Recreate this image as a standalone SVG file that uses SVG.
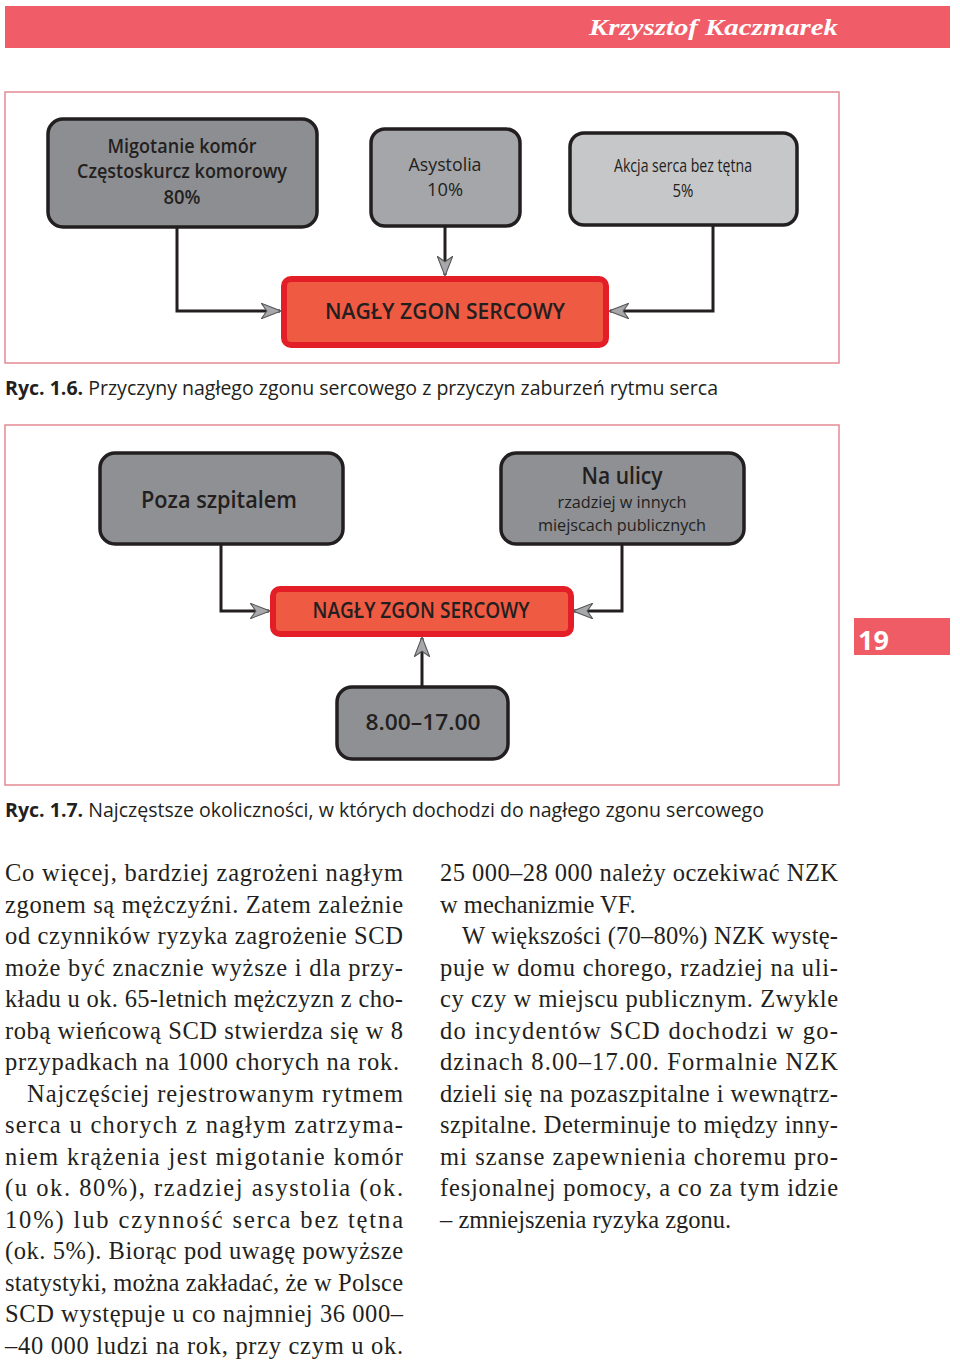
<svg xmlns="http://www.w3.org/2000/svg" width="960" height="1363" viewBox="0 0 960 1363">
<defs>
<style>
.frame{fill:none;stroke:#e48a92;stroke-width:1.5}
.node{stroke:#231f20;stroke-width:3.5}
.red{fill:#ef5a42;stroke:#e41e26;stroke-width:6}
.d{font-family:"Open Sans","Noto Sans",sans-serif;fill:#231f20;text-anchor:middle}
.sb{font-weight:600}
.conn{fill:none;stroke:#231f20;stroke-width:3}
.cap{font-family:"Open Sans","Noto Sans",sans-serif;font-size:20px;fill:#231f20}
.body{font-family:"Liberation Serif","Times New Roman",serif;font-size:24.5px;fill:#231f20}
</style>
<marker id="arr" markerUnits="userSpaceOnUse" markerWidth="22" markerHeight="16" refX="17" refY="7" orient="auto" viewBox="0 0 20 14">
<path d="M0,0 L18,7 L0,14 L5,7 Z" fill="#a7a8ab" stroke="#555" stroke-width="1"/>
</marker>
</defs>
<rect x="0" y="0" width="960" height="1363" fill="#ffffff"/>

<!-- header -->
<rect x="5" y="6" width="945" height="42" fill="#f05d69"/>
<text x="838" y="35" text-anchor="end" font-family="Liberation Serif,serif" font-style="italic" font-weight="bold" font-size="24" fill="#ffffff" textLength="249" lengthAdjust="spacingAndGlyphs">Krzysztof Kaczmarek</text>

<!-- figure 1.6 -->
<rect class="frame" x="5" y="92" width="834" height="271"/>
<g id="connectors1">
<path class="conn" d="M177,227 V311 H280" marker-end="url(#arr)"/>
<path class="conn" d="M445,226 V275" marker-end="url(#arr)"/>
<path class="conn" d="M713,225 V311 H610" marker-end="url(#arr)"/>
</g>
<g id="n_migotanie">
<rect class="node" x="48" y="119" width="269" height="108" rx="15" fill="#8d8e91"/>
<text class="d sb" x="182" y="153" font-size="19" textLength="149" lengthAdjust="spacingAndGlyphs">Migotanie komór</text>
<text class="d sb" x="182" y="178" font-size="19" textLength="210" lengthAdjust="spacingAndGlyphs">Częstoskurcz komorowy</text>
<text class="d sb" x="182" y="204" font-size="19" textLength="37" lengthAdjust="spacingAndGlyphs">80%</text>
</g>
<g id="n_asystolia">
<rect class="node" x="371" y="129" width="149" height="97" rx="14" fill="#a5a6a9" stroke-width="3"/>
<text class="d" x="445" y="171" font-size="19" textLength="73" lengthAdjust="spacingAndGlyphs">Asystolia</text>
<text class="d" x="445" y="196" font-size="19" textLength="36" lengthAdjust="spacingAndGlyphs">10%</text>
</g>
<g id="n_akcja">
<rect class="node" x="570" y="133" width="227" height="92" rx="14" fill="#c6c7c9" stroke-width="2.5"/>
<text class="d" x="683" y="172" font-size="18" textLength="138" lengthAdjust="spacingAndGlyphs">Akcja serca bez tętna</text>
<text class="d" x="683" y="197" font-size="18" textLength="21" lengthAdjust="spacingAndGlyphs">5%</text>
</g>
<g id="n_nzs1">
<rect class="red" x="284" y="279" width="322" height="66" rx="7"/>
<text class="d sb" x="445" y="319" font-size="22" textLength="240" lengthAdjust="spacingAndGlyphs">NAGŁY ZGON SERCOWY</text>
</g>
<text class="cap" x="5" y="395" textLength="713" lengthAdjust="spacingAndGlyphs"><tspan font-weight="bold">Ryc. 1.6.</tspan> Przyczyny nagłego zgonu sercowego z przyczyn zaburzeń rytmu serca</text>

<!-- figure 1.7 -->
<rect class="frame" x="5" y="425" width="834" height="360"/>
<g id="connectors2">
<path class="conn" d="M221,544 V611 H269" marker-end="url(#arr)"/>
<path class="conn" d="M622,544 V611 H574" marker-end="url(#arr)"/>
<path class="conn" d="M422,686 V638" marker-end="url(#arr)"/>
</g>
<g id="n_poza">
<rect class="node" x="100" y="453" width="243" height="91" rx="15" fill="#8e9093"/>
<text class="d sb" x="219" y="508" font-size="24" textLength="156" lengthAdjust="spacingAndGlyphs">Poza szpitalem</text>
</g>
<g id="n_ulicy">
<rect class="node" x="501" y="453" width="243" height="91" rx="15" fill="#8e9093"/>
<text class="d sb" x="622" y="484" font-size="24" textLength="81" lengthAdjust="spacingAndGlyphs">Na ulicy</text>
<text class="d" x="622" y="508" font-size="17" textLength="129" lengthAdjust="spacingAndGlyphs">rzadziej w innych</text>
<text class="d" x="622" y="531" font-size="17" textLength="168" lengthAdjust="spacingAndGlyphs">miejscach publicznych</text>
</g>
<g id="n_nzs2">
<rect class="red" x="273" y="589" width="298" height="45" rx="7"/>
<text class="d sb" x="421" y="618" font-size="21" textLength="217" lengthAdjust="spacingAndGlyphs">NAGŁY ZGON SERCOWY</text>
</g>
<g id="n_godz">
<rect class="node" x="337" y="687" width="171" height="72" rx="15" fill="#8e9093" stroke-width="3"/>
<text class="d sb" x="423" y="730" font-size="22" textLength="115" lengthAdjust="spacingAndGlyphs">8.00–17.00</text>
</g>
<text class="cap" x="5" y="817" textLength="759" lengthAdjust="spacingAndGlyphs"><tspan font-weight="bold">Ryc. 1.7.</tspan> Najczęstsze okoliczności, w których dochodzi do nagłego zgonu sercowego</text>

<!-- page number tab -->
<rect x="854" y="618" width="96" height="37" fill="#ef5c66"/>
<text x="858" y="650" font-family="Open Sans,sans-serif" font-weight="bold" font-size="27" fill="#ffffff">19</text>

<!-- body text left -->
<g class="body">
<text x="5" y="881" textLength="398" lengthAdjust="spacing">Co więcej, bardziej zagrożeni nagłym</text>
<text x="5" y="913" textLength="398" lengthAdjust="spacing">zgonem są mężczyźni. Zatem zależnie</text>
<text x="5" y="944" textLength="398" lengthAdjust="spacing">od czynników ryzyka zagrożenie SCD</text>
<text x="5" y="976" textLength="398" lengthAdjust="spacing">może być znacznie wyższe i dla przy-</text>
<text x="5" y="1007" textLength="398" lengthAdjust="spacing">kładu u ok. 65-letnich mężczyzn z cho-</text>
<text x="5" y="1039" textLength="398" lengthAdjust="spacing">robą wieńcową SCD stwierdza się w 8</text>
<text x="5" y="1070" textLength="394" lengthAdjust="spacing">przypadkach na 1000 chorych na rok.</text>
<text x="27" y="1102" textLength="376" lengthAdjust="spacing">Najczęściej rejestrowanym rytmem</text>
<text x="5" y="1133" textLength="398" lengthAdjust="spacing">serca u chorych z nagłym zatrzyma-</text>
<text x="5" y="1165" textLength="398" lengthAdjust="spacing">niem krążenia jest migotanie komór</text>
<text x="5" y="1196" textLength="398" lengthAdjust="spacing">(u ok. 80%), rzadziej asystolia (ok.</text>
<text x="5" y="1228" textLength="398" lengthAdjust="spacing">10%) lub czynność serca bez tętna</text>
<text x="5" y="1259" textLength="398" lengthAdjust="spacing">(ok. 5%). Biorąc pod uwagę powyższe</text>
<text x="5" y="1291" textLength="398" lengthAdjust="spacing">statystyki, można zakładać, że w Polsce</text>
<text x="5" y="1322" textLength="398" lengthAdjust="spacing">SCD występuje u co najmniej 36 000–</text>
<text x="5" y="1354" textLength="398" lengthAdjust="spacing">–40 000 ludzi na rok, przy czym u ok.</text>
</g>
<!-- body text right -->
<g class="body">
<text x="440" y="881" textLength="398" lengthAdjust="spacing">25 000–28 000 należy oczekiwać NZK</text>
<text x="440" y="913">w mechanizmie VF.</text>
<text x="462" y="944" textLength="376" lengthAdjust="spacing">W większości (70–80%) NZK wystę-</text>
<text x="440" y="976" textLength="398" lengthAdjust="spacing">puje w domu chorego, rzadziej na uli-</text>
<text x="440" y="1007" textLength="398" lengthAdjust="spacing">cy czy w miejscu publicznym. Zwykle</text>
<text x="440" y="1039" textLength="398" lengthAdjust="spacing">do incydentów SCD dochodzi w go-</text>
<text x="440" y="1070" textLength="398" lengthAdjust="spacing">dzinach 8.00–17.00. Formalnie NZK</text>
<text x="440" y="1102" textLength="398" lengthAdjust="spacing">dzieli się na pozaszpitalne i wewnątrz-</text>
<text x="440" y="1133" textLength="398" lengthAdjust="spacing">szpitalne. Determinuje to między inny-</text>
<text x="440" y="1165" textLength="398" lengthAdjust="spacing">mi szanse zapewnienia choremu pro-</text>
<text x="440" y="1196" textLength="398" lengthAdjust="spacing">fesjonalnej pomocy, a co za tym idzie</text>
<text x="440" y="1228">– zmniejszenia ryzyka zgonu.</text>
</g>
</svg>
